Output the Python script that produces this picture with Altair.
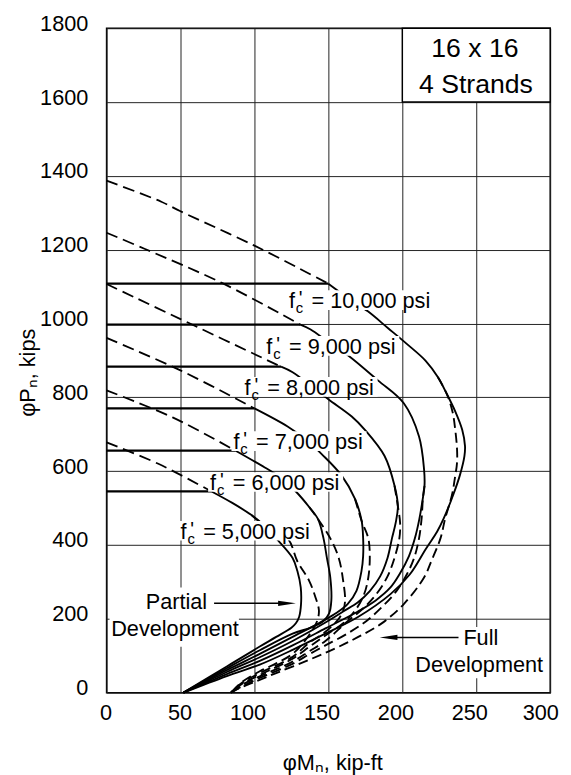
import altair as alt
import pandas as pd

# ---------------- data ----------------
FC_LIST = [5000, 6000, 7000, 8000, 9000, 10000]

# 0.8 Po cap (horizontal solid line) and its end moment
PCAP = {5000: 545, 6000: 656, 7000: 770, 8000: 883, 9000: 997, 10000: 1108}
MCAP = {5000: 71, 6000: 87, 7000: 100, 8000: 118, 9000: 131, 10000: 150}

# dashed line above the cap, from Po at M = 0 to the cap end
TOP_M = {5000: [0, 35, 71], 6000: [0, 45, 87], 7000: [0, 50, 100], 8000: [0, 50, 118],
         9000: [0, 26, 79, 131], 10000: [0, 37, 50, 100, 150]}
TOP_P = {5000: [678, 620, 545], 6000: [819, 745, 656], 7000: [961, 873, 770], 8000: [1107, 1012, 883],
         9000: [1246, 1202, 1108, 997], 10000: [1387, 1330, 1304, 1211, 1108]}

# common solid part below the cap, down to where the two curves split
UP_M = {5000: [71, 85, 98, 106],
        6000: [87, 107, 117, 128, 137, 143],
        7000: [100, 122.4, 135, 145.8, 159, 168, 172.5],
        8000: [118, 125.8, 138, 150.2, 165.8, 174.7, 188, 194.7, 197],
        9000: [131, 138, 150, 163.6, 183.5, 201, 211.3, 214.7, 215, 214],
        10000: [150, 163, 176.7, 190.2, 203, 215.8, 224, 230]}
UP_P = {5000: [545, 514, 481, 455],
        6000: [656, 610, 585, 545, 503, 470],
        7000: [770, 721, 685, 645, 588, 525, 465],
        8000: [883, 868, 832, 794, 748, 712, 641, 561, 505],
        9000: [997, 984, 950, 913, 846, 784, 694, 605, 560, 530],
        10000: [1108, 1070, 1033, 988, 945, 899, 855, 810]}

# partial development (solid), from the split point down to P = 0
PA_M = {5000: [106, 114.7, 125.8, 129, 131.3, 131.5, 130.2, 128, 125, 114.7, 103.6, 81.3, 52],
        6000: [143, 146.7, 149, 151.3, 152, 150.5, 146, 138, 125.8, 103.6, 81.3, 52],
        7000: [172.5, 173.5, 173.5, 172.4, 169, 163, 155, 148, 125.8, 103.6, 81.3, 52],
        8000: [197, 195.5, 193, 190, 185, 178, 170, 160, 148, 125.8, 103.6, 81.3, 52],
        9000: [214, 211.5, 208.5, 204.5, 198, 192, 182, 170, 148, 125.8, 103.6, 81.3, 52],
        10000: [230, 236, 240.5, 242.4, 242, 239, 234.7, 228, 223.5, 216, 205, 192, 170, 148, 125.8, 103.6, 81.3, 52]}
PA_P = {5000: [455, 418, 365, 330, 285, 240, 205, 188, 176, 151, 125, 71, 0],
        6000: [470, 418, 365, 312, 250, 215, 192, 176, 160, 115, 66, 0],
        7000: [465, 418, 370, 330, 276, 240, 215, 198, 151, 105, 61, 0],
        8000: [505, 460, 418, 365, 315, 275, 245, 220, 190, 140, 96, 56, 0],
        9000: [530, 470, 418, 370, 320, 285, 250, 220, 174, 128, 86, 50, 0],
        10000: [810, 760, 712, 668, 641, 590, 539, 472, 436, 390, 320, 267, 205, 160, 116, 76, 45, 0]}

# full development (dashed), from the split point down to P = 0
FU_M = {5000: [106, 122.4, 129, 137, 141.3, 143.6, 142.5, 139, 133, 125.8, 115, 103.6, 92, 84],
        6000: [143, 151.3, 157, 160, 161.3, 160, 156, 148, 137, 125.8, 103.6, 92, 84],
        7000: [172.5, 177, 178, 177, 174, 168, 160, 148, 137, 125.8, 103.6, 92, 84],
        8000: [197, 198.5, 198, 194.7, 190, 183, 174, 162, 148, 137, 125.8, 103.6, 92, 84],
        9000: [214, 213, 211.3, 208, 203, 196, 187, 176, 162, 148, 137, 125.8, 103.6, 92, 84],
        10000: [230, 234, 235.8, 237, 237, 235.5, 233.5, 229, 225.8, 220, 214.7, 201, 185.8, 170.2, 154.7,
                137, 114.7, 99, 88, 84]}
FU_P = {5000: [455, 418, 356, 303, 258, 223, 195, 168, 135, 105, 80, 58, 30, 0],
        6000: [470, 418, 365, 303, 249, 222, 195, 165, 135, 97, 53, 28, 0],
        7000: [465, 418, 365, 312, 265, 222, 188, 155, 124, 92, 48, 25, 0],
        8000: [505, 460, 418, 365, 315, 270, 230, 190, 140, 112, 84, 44, 22, 0],
        9000: [530, 470, 418, 365, 320, 275, 235, 195, 158, 128, 104, 78, 40, 18, 0],
        10000: [810, 760, 712, 660, 623, 580, 534, 472, 418, 360, 312, 240, 187, 151, 120,
                89, 53, 27, 9, 0]}

# curve labels: left edge (M) and centre (P)
LABEL_TEXT = ["= 5,000 psi", "= 6,000 psi", "= 7,000 psi", "= 8,000 psi", "= 9,000 psi", "= 10,000 psi"]
LABEL_M = [50, 70, 85.8, 93.3, 108, 123.3]
LABEL_P = [436, 568, 679, 826, 937, 1061]

X_TICKS = [0, 50, 100, 150, 200, 250, 300]
Y_TICKS = [0, 200, 400, 600, 800, 1000, 1200, 1400, 1600, 1800]

# ---------------- build tables ----------------
PX_X = 1.5      # px per kip-ft
PX_Y = 0.3744   # px per kip

rows = []
def add(cid, style, ms, ps):
    for i, (m, p) in enumerate(zip(ms, ps)):
        rows.append(dict(cid=cid, style=style, i=i, M=m, P=p))

for fc in FC_LIST:
    add(f"{fc}-top", "top", TOP_M[fc], TOP_P[fc])
    add(f"{fc}-cap", "cap", [0, MCAP[fc]], [PCAP[fc], PCAP[fc]])
    # partial: common upper part + partial branch as one smooth path
    add(f"{fc}-pa", "solid", UP_M[fc] + PA_M[fc][1:], UP_P[fc] + PA_P[fc][1:])
    # full: start one segment earlier so the tangent continues smoothly
    add(f"{fc}-fu", "dashed", UP_M[fc][-2:] + FU_M[fc][1:], UP_P[fc][-2:] + FU_P[fc][1:])
df = pd.DataFrame(rows)

lab = pd.DataFrame(dict(text=LABEL_TEXT, M=LABEL_M, P=LABEL_P))
lab["wpx"] = [150 if "10," in t else 135 for t in LABEL_TEXT]
lab["x1"] = lab["M"] - 2 / PX_X
lab["x2"] = lab["M"] + lab["wpx"] / PX_X
lab["y1"] = lab["P"] - 9 / PX_Y
lab["y2"] = lab["P"] + 11 / PX_Y

xs = alt.Scale(domain=[0, 300], nice=False, zero=False)
ys = alt.Scale(domain=[0, 1800], nice=False, zero=False)
FONT = "Liberation Sans"

x_axis = alt.Axis(values=X_TICKS, title="φMₙ, kip-ft", grid=True, gridColor="#222", gridWidth=1,
                  ticks=False, tickSize=0, domain=False, labelFontSize=22, labelFont=FONT,
                  labelColor="black", labelPadding=10, labelFlush=False, format="d",
                  labelOffset={"condition": [{"test": "datum.value == 300", "value": -10},
                                             {"test": "datum.value >= 100", "value": -7}],
                               "value": -1},
                  titleFontSize=22, titleFont=FONT, titleFontWeight="normal", titleColor="black",
                  titleX=229, titleY=71, titleBaseline="middle")
y_axis = alt.Axis(values=Y_TICKS, title="φPₙ, kips", grid=True, gridColor="#222", gridWidth=1,
                  ticks=False, tickSize=0, domain=False, labelFontSize=22, labelFont=FONT,
                  labelColor="black", labelPadding=19, labelOffset=-5, format="d",
                  titleFontSize=22, titleFont=FONT, titleFontWeight="normal", titleColor="black",
                  titleX=-80, titleY=349, titleBaseline="middle")

base = alt.Chart(df)
X = alt.X("M:Q", scale=xs, axis=x_axis)
Y = alt.Y("P:Q", scale=ys, axis=y_axis)
XS = alt.X("M:Q", scale=xs)
YS = alt.Y("P:Q", scale=ys)

solid = base.transform_filter("datum.style == 'solid'").mark_line(
    color="black", strokeWidth=1.9, interpolate="catmull-rom").encode(
    x=X, y=Y, detail="cid:N", order="i:Q")
caps = base.transform_filter("datum.style == 'cap'").mark_line(
    color="black", strokeWidth=2.3).encode(x=XS, y=YS, detail="cid:N", order="i:Q")
top = base.transform_filter("datum.style == 'top'").mark_line(
    color="black", strokeWidth=1.8, strokeDash=[12, 6], interpolate="catmull-rom").encode(
    x=XS, y=YS, detail="cid:N", order="i:Q")
dashed = base.transform_filter("datum.style == 'dashed'").mark_line(
    color="black", strokeWidth=1.9, strokeDash=[10, 5], interpolate="catmull-rom").encode(
    x=XS, y=YS, detail="cid:N", order="i:Q")

lb = alt.Chart(lab)
boxes = lb.mark_rect(fill="white").encode(
    x=alt.X("x1:Q", scale=xs), x2="x2:Q", y=alt.Y("y1:Q", scale=ys), y2="y2:Q")
txt_f = lb.mark_text(text="f", align="left", baseline="middle", fontSize=22, font=FONT,
                     color="black").encode(x=XS, y=YS)
txt_pr = lb.mark_text(text="'", align="left", baseline="middle", fontSize=20, font=FONT, color="black",
                      dx=10, dy=-2).encode(x=XS, y=YS)
txt_c = lb.mark_text(text="c", align="left", baseline="middle", fontSize=15, font=FONT, color="black",
                     dx=7, dy=7).encode(x=XS, y=YS)
txt_rest = lb.mark_text(align="left", baseline="middle", fontSize=22, font=FONT, color="black",
                        dx=23).encode(x=XS, y=YS, text="text:N")

# annotations: "Partial Development", "Full Development"
ANN = pd.DataFrame(dict(
    name=["partial", "full"],
    bx1=[2, 206.7], bx2=[89.5, 298.7], by1=[124.7, 39.3], by2=[285, 178.2],
    ax1=[72.7, 238], ax2=[122, 190.7], ay=[242, 149.6]))
ann = alt.Chart(ANN)
ann_box = ann.mark_rect(fill="white").encode(
    x=alt.X("bx1:Q", scale=xs), x2="bx2:Q", y=alt.Y("by1:Q", scale=ys), y2="by2:Q")
ann_line = ann.mark_rule(color="black", strokeWidth=1.5).encode(
    x=alt.X("ax1:Q", scale=xs), x2="ax2:Q", y=alt.Y("ay:Q", scale=ys))
head_r = ann.transform_filter("datum.name == 'partial'").mark_point(
    shape="M -1 -0.3 L 1 0 L -1 0.3 Z", filled=True, color="black", size=324, opacity=1).encode(
    x=alt.X("ax2:Q", scale=xs), y=alt.Y("ay:Q", scale=ys))
head_l = ann.transform_filter("datum.name == 'full'").mark_point(
    shape="M 1 -0.3 L -1 0 L 1 0.3 Z", filled=True, color="black", size=324, opacity=1).encode(
    x=alt.X("ax2:Q", scale=xs), y=alt.Y("ay:Q", scale=ys))

ANN_TXT = pd.DataFrame(dict(
    text=["Partial", "Development", "Full", "Development", "16 x 16", "4 Strands"],
    M=[68, 46.3, 241.3, 252, 249.1, 249.8],
    P=[245, 173, 147, 74, 1743, 1647],
    al=["right", "center", "left", "center", "center", "center"],
    fs=[22, 22, 22, 22, 27, 27]))

txt_right = alt.Chart(ANN_TXT[ANN_TXT.al == "right"]).mark_text(
    align="right", baseline="middle", font=FONT, color="black", fontSize=22).encode(
    x=XS, y=YS, text="text:N")
txt_left = alt.Chart(ANN_TXT[ANN_TXT.al == "left"]).mark_text(
    align="left", baseline="middle", font=FONT, color="black", fontSize=22).encode(
    x=XS, y=YS, text="text:N")
txt_center = alt.Chart(ANN_TXT[ANN_TXT.al == "center"]).mark_text(
    align="center", baseline="middle", font=FONT, color="black").encode(
    x=XS, y=YS, text="text:N", size=alt.Size("fs:Q", scale=None, legend=None))

BOXTR = pd.DataFrame(dict(x1=[200], x2=[300], y1=[1600], y2=[1800]))
box_tr = alt.Chart(BOXTR).mark_rect(fill="white", stroke="black", strokeWidth=1.5).encode(
    x=alt.X("x1:Q", scale=xs), x2="x2:Q", y=alt.Y("y1:Q", scale=ys), y2="y2:Q")

chart = alt.layer(
    solid, caps, top, dashed, boxes, txt_f, txt_pr, txt_c, txt_rest,
    ann_box, ann_line, head_r, head_l, box_tr, txt_right, txt_left, txt_center
).properties(
    width=450, height=674,
    padding={"left": 100, "top": 15, "right": 13, "bottom": 78},
    autosize=alt.AutoSizeParams(type="none"),
    background="white",
).configure(font=FONT).configure_view(stroke="black", strokeWidth=1.5)

chart.save("out.html", embed_options={"renderer": "svg", "actions": False})
